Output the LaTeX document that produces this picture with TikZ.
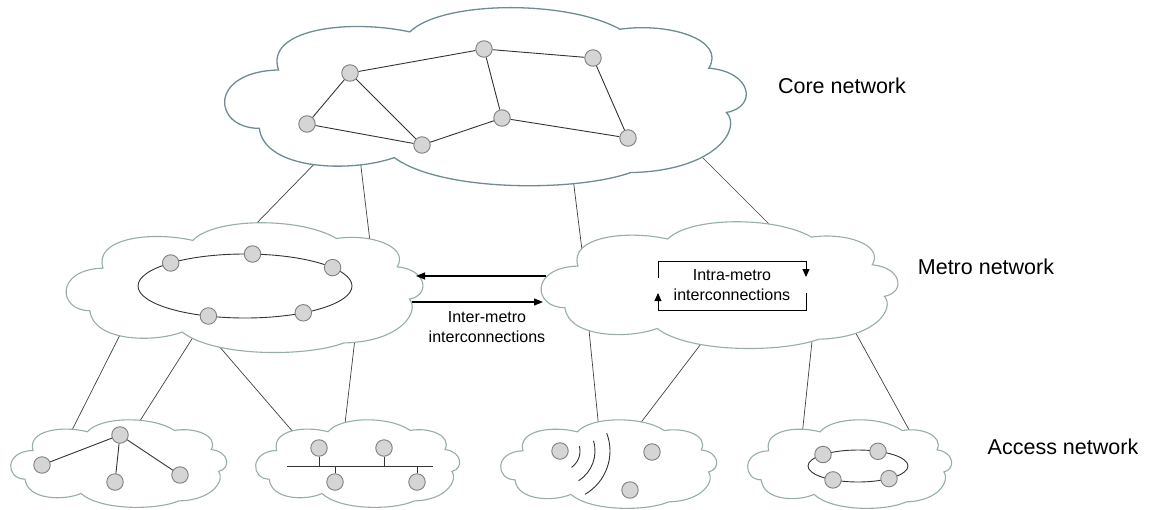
\documentclass[tikz,border=0pt]{standalone}
\usepackage{fontspec}
\setmainfont{Liberation Sans}
\usetikzlibrary{arrows.meta}
\pgfdeclarelayer{background}
\pgfsetlayers{background,main}
\definecolor{cloudline}{HTML}{97ADA9}
\definecolor{coreline}{HTML}{6F8C93}
\definecolor{nodefill}{HTML}{D5D5D5}
\definecolor{nodeline}{HTML}{808080}
\tikzset{
  % cloud outline in a unit box: u to the right, v downwards
  netcloud/.pic={
    \path[pic actions]
      (0.07,0.68) .. controls (-0.02,0.68) and (-0.03,0.36) .. (0.107,0.35)
      .. controls (0.08,0.12) and (0.24,0.06) .. (0.36,0.135)
      .. controls (0.42,-0.04) and (0.66,-0.05) .. (0.765,0.12)
      .. controls (0.86,0.08) and (0.97,0.18) .. (0.936,0.34)
      .. controls (1.02,0.36) and (1.03,0.56) .. (0.97,0.59)
      .. controls (1.0,0.68) and (0.95,0.92) .. (0.785,0.93)
      .. controls (0.68,1.04) and (0.42,1.04) .. (0.33,0.845)
      .. controls (0.25,0.93) and (0.08,0.92) .. (0.07,0.68) -- cycle;
    \coordinate (-c) at (0.5,0.5);
  }
}
\begin{document}
\begin{tikzpicture}[x=1pt,y=-1pt,
  cloudbox/.style={draw=cloudline, line width=1.1pt, fill=white},
  dev/.style={circle, minimum size=16.5pt, inner sep=0pt, fill=nodefill, draw=nodeline, line width=0.9pt},
  link/.style={draw=black!80, line width=0.9pt},
  uplink/.style={draw=black!75, line width=0.7pt},
  flow/.style={draw=black, line width=1.1pt, -{Triangle[length=9pt,width=7pt]}},
  loopflow/.style={draw=black, line width=0.9pt, -{Triangle[length=8pt,width=7pt]}},
  layer/.style={font=\fontsize{21.5}{25}\selectfont, anchor=center},
  note/.style={font=\fontsize{16}{20}\selectfont, align=center, inner sep=0pt}]
\useasboundingbox (0,0) rectangle (1149,509);

% ---- clouds ----
\pic[cloudbox, draw=coreline, line width=1.3pt, xscale=519, yscale=177] (core) at (223,8) {netcloud};
\pic[cloudbox, xscale=355, yscale=129] (ml) at (65,223) {netcloud};
\pic[cloudbox, xscale=355, yscale=126] (mr) at (540,222) {netcloud};
\pic[cloudbox, xscale=215, yscale=87] (a1) at (10,420) {netcloud};
\pic[cloudbox, xscale=203, yscale=87] (a2) at (255,420) {netcloud};
\pic[cloudbox, xscale=215, yscale=88] (a3) at (500,420) {netcloud};
\pic[cloudbox, xscale=203, yscale=88] (a4) at (747,420) {netcloud};

% ---- uplinks between the tiers (ends hidden under the cloud fills) ----
\coordinate (u1a) at (325,153); \coordinate (u1b) at (250,230);
\coordinate (u2a) at (359,150); \coordinate (u2b) at (371,250);
\coordinate (u3a) at (572,170); \coordinate (u3b) at (583,258);
\coordinate (u4a) at (695,150); \coordinate (u4b) at (778,233);
\coordinate (d1a) at (126,323); \coordinate (d1b) at (68,438);
\coordinate (d2a) at (197,331); \coordinate (d2b) at (136,427);
\coordinate (d3a) at (212,338); \coordinate (d3b) at (300,440);
\coordinate (d4a) at (356,330); \coordinate (d4b) at (344,432);
\coordinate (d5a) at (589,330); \coordinate (d5b) at (599,430);
\coordinate (d6a) at (707,336); \coordinate (d6b) at (636,429);
\coordinate (d7a) at (813,332); \coordinate (d7b) at (802,436);
\coordinate (d8a) at (853,328); \coordinate (d8b) at (913,437);
\begin{pgfonlayer}{background}
  \foreach \p in {u1,u2,u3,u4,d1,d2,d3,d4,d5,d6,d7,d8}
    \draw[uplink] (\p a) -- (\p b);
\end{pgfonlayer}

% ---- core mesh ----
\node[dev] (c1) at (350,73) {};
\node[dev] (c2) at (484,49) {};
\node[dev] (c3) at (593,58) {};
\node[dev] (c4) at (307,124) {};
\node[dev] (c5) at (422,145) {};
\node[dev] (c6) at (502,118) {};
\node[dev] (c7) at (628,138) {};
\draw[link] (c1) -- (c2) (c2) -- (c3) (c1) -- (c4) (c1) -- (c5) (c4) -- (c5)
            (c5) -- (c6) (c6) -- (c2) (c6) -- (c7) (c3) -- (c7);

% ---- left metro ring ----
\draw[link] (245,286) ellipse (107 and 32);
\node[dev] (m1) at (170.7,263) {};
\node[dev] (m2) at (252.5,254) {};
\node[dev] (m3) at (332.6,267.6) {};
\node[dev] (m4) at (208.4,316) {};
\node[dev] (m5) at (303.3,312.8) {};

% ---- inter-metro arrows ----
\coordinate (i1) at (546,276); \coordinate (i2) at (416,276);
\coordinate (i3) at (412,302); \coordinate (i4) at (543,302);
\draw[flow] (i1) -- (i2);
\draw[flow] (i3) -- (i4);
\node[note] (inter) at (487,327) {Inter-metro\\interconnections};

% ---- intra-metro loop ----
\coordinate (r1) at (658,278); \coordinate (r2) at (658,261);
\coordinate (r3) at (806,261); \coordinate (r4) at (806,277);
\coordinate (r5) at (806,293); \coordinate (r6) at (806,310);
\coordinate (r7) at (658,310); \coordinate (r8) at (658,293);
\draw[loopflow] (r1) -- (r2) -- (r3) -- (r4);
\draw[loopflow] (r5) -- (r6) -- (r7) -- (r8);
\node[note] (intra) at (732,285) {Intra-metro\\interconnections};

% ---- access: tree ----
\node[dev] (t0) at (120,435) {};
\node[dev] (t1) at (42,465) {};
\node[dev] (t2) at (115,482) {};
\node[dev] (t3) at (180,475) {};
\draw[link] (t0) -- (t1) (t0) -- (t2) (t0) -- (t3);

% ---- access: bus ----
\coordinate (bl) at (287,466); \coordinate (br) at (433,466);
\draw[link] (bl) -- (br);
\node[dev] (b1) at (319,448) {};
\node[dev] (b2) at (384,448) {};
\node[dev] (b3) at (335,482) {};
\node[dev] (b4) at (417,482) {};
\foreach \b in {b1,b2,b3,b4}
  \draw[link] (\b) -- (\b |- bl);

% ---- access: wireless ----
\node[dev] (w1) at (560,451) {};
\node[dev] (w2) at (652,452) {};
\node[dev] (w3) at (630,490) {};
\draw[link] (w1) ++(-14:20) arc (-14:55:20);
\draw[link] (w1) ++(-17:35) arc (-17:58:35);
\draw[link] (w1) ++(-21:50) arc (-21:60:50);

% ---- access: ring ----
\draw[link] (858,466) ellipse (50 and 16);
\node[dev] (g1) at (823,454.5) {};
\node[dev] (g2) at (878,451.3) {};
\node[dev] (g3) at (833,479.9) {};
\node[dev] (g4) at (889,478.6) {};

% ---- tier labels ----
\node[layer] (lcore) at (842,86) {Core network};
\node[layer] (lmetro) at (986,267) {Metro network};
\node[layer] (laccess) at (1063,447) {Access network};
\end{tikzpicture}
\end{document}
